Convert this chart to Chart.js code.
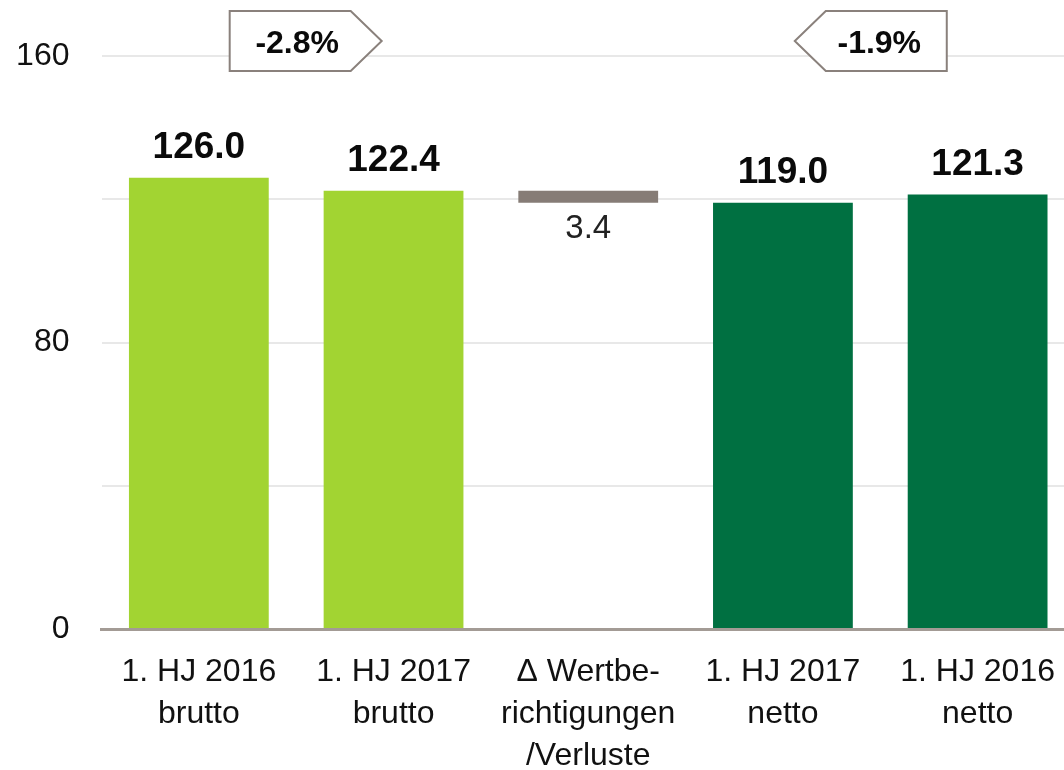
<!DOCTYPE html>
<html>
<head>
<meta charset="utf-8">
<script src="https://cdn.jsdelivr.net/npm/chart.js@4/dist/chart.umd.min.js"></script>
<style>
  html, body { margin: 0; padding: 0; background: #ffffff; overflow: hidden; }
  #wrap { position: relative; width: 1077px; height: 770px; }
</style>
</head>
<body>
<div id="wrap"><canvas id="chart"></canvas></div>
<script>
// ---- data ----
const categories = [
  ['1. HJ 2016', 'brutto'],
  ['1. HJ 2017', 'brutto'],
  ['\u0394 Wertbe-', 'richtigungen', '/Verluste'],
  ['1. HJ 2017', 'netto'],
  ['1. HJ 2016', 'netto']
];
const barValues = [126.0, 122.4, null, 119.0, 121.3];
const deltaIndex = 2;
const deltaRange = [119.0, 122.4];
const deltaLabel = '3.4';
const barColors = ['#a2d432', '#a2d432', '#867c76', '#007041', '#007041'];
const yTickValues = [0, 80, 160];
const changeLabels = ['-2.8%', '-1.9%'];
const changeBetween = [[0, 1], [3, 4]];
const changeDirection = [1, -1]; // arrow points right / left

const FONT = "'Liberation Sans', Arial, sans-serif";

const data = barValues.map((v, i) => i === deltaIndex ? deltaRange : v);

const labelPlugin = {
  id: 'labels',
  afterDatasetsDraw(chart) {
    const ctx = chart.ctx;
    const meta = chart.getDatasetMeta(0);
    const x = chart.scales.x, y = chart.scales.y;
    ctx.save();
    // value labels
    meta.data.forEach((bar, i) => {
      ctx.textAlign = 'center';
      ctx.textBaseline = 'alphabetic';
      if (i === deltaIndex) {
        ctx.font = 'normal 33px ' + FONT;
        ctx.fillStyle = '#222222';
        ctx.fillText(deltaLabel, bar.x, y.getPixelForValue(deltaRange[0]) + 35);
      } else {
        ctx.font = 'bold 37px ' + FONT;
        ctx.fillStyle = '#0a0a0a';
        ctx.fillText(barValues[i].toFixed(1), bar.x, bar.y - 20);
      }
    });
    // change boxes
    const yTop = y.getPixelForValue(160);
    changeLabels.forEach((txt, k) => {
      const [a, b] = changeBetween[k];
      const mid = (x.getPixelForValue(a) + x.getPixelForValue(b)) / 2;
      const dir = changeDirection[k];
      const w = 121, h = 60, arrow = 31;
      const cx = mid - 6 * dir;
      const left = cx - w / 2, right = cx + w / 2;
      const top = yTop - 45, bot = top + h, cy = top + h / 2;
      ctx.beginPath();
      if (dir > 0) {
        ctx.moveTo(left, top);
        ctx.lineTo(right, top);
        ctx.lineTo(right + arrow, cy);
        ctx.lineTo(right, bot);
        ctx.lineTo(left, bot);
      } else {
        ctx.moveTo(right, top);
        ctx.lineTo(left, top);
        ctx.lineTo(left - arrow, cy);
        ctx.lineTo(left, bot);
        ctx.lineTo(right, bot);
      }
      ctx.closePath();
      ctx.fillStyle = '#ffffff';
      ctx.fill();
      ctx.lineWidth = 2;
      ctx.strokeStyle = '#8a817c';
      ctx.stroke();
      ctx.font = 'bold 32px ' + FONT;
      ctx.fillStyle = '#0a0a0a';
      ctx.textAlign = 'center';
      ctx.textBaseline = 'alphabetic';
      ctx.fillText(txt, cx + 7 * dir, cy + 12);
    });
    ctx.restore();
  }
};

new Chart(document.getElementById('chart'), {
  type: 'bar',
  data: {
    labels: categories,
    datasets: [{
      data: data,
      backgroundColor: barColors,
      borderWidth: 0,
      barPercentage: 0.718,
      categoryPercentage: 1.0
    }]
  },
  options: {
    responsive: true,
    maintainAspectRatio: false,
    animation: false,
    events: [],
    layout: { padding: { top: 56, left: 0, right: 0, bottom: 0 } },
    plugins: { legend: { display: false }, tooltip: { enabled: false } },
    scales: {
      x: {
        grid: { display: false, drawTicks: false },
        border: { display: true, color: '#a39b95', width: 3 },
        ticks: {
          color: '#111111',
          font: { family: FONT, size: 32, lineHeight: 1.3125 },
          padding: 22,
          maxRotation: 0,
          autoSkip: false
        },
        afterFit(scale) { scale.height = 141; }
      },
      y: {
        min: 0,
        max: 160,
        grid: { color: '#e8e8e8', lineWidth: 2, drawTicks: false },
        border: { display: false },
        ticks: {
          stepSize: 40,
          color: '#111111',
          font: { family: FONT, size: 32 },
          padding: 32,
          callback: (v) => yTickValues.includes(v) ? String(v) : ''
        },
        afterFit(scale) { scale.width = 101.5; }
      }
    }
  },
  plugins: [labelPlugin]
});
</script>
</body>
</html>
